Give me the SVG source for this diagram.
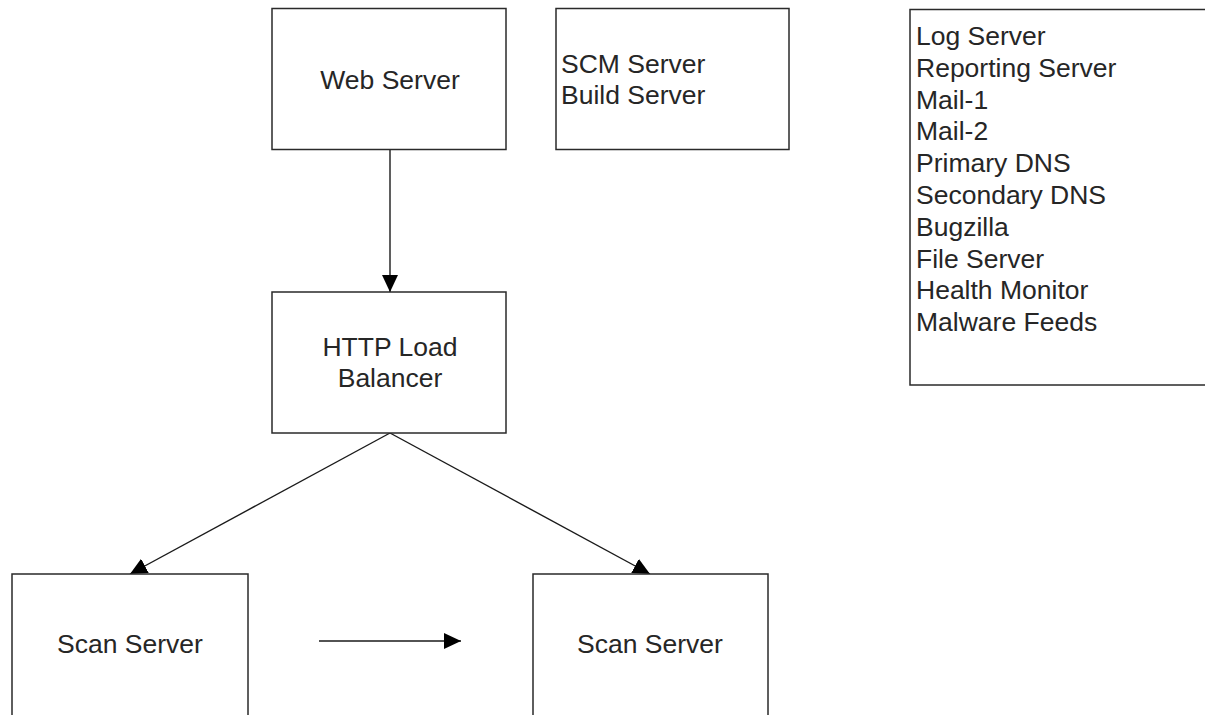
<svg xmlns="http://www.w3.org/2000/svg" width="1205" height="715" viewBox="0 0 1205 715">
  <style>
    .box { fill: #ffffff; stroke: #2a2a2a; stroke-width: 1.5; }
    .lbl { font-family: "Liberation Sans", Arial, sans-serif; font-size: 26.5px; fill: #262626; }
    .mid { text-anchor: middle; }
    .edge { fill: none; stroke: #1a1a1a; stroke-width: 1.4; marker-end: url(#head); }
  </style>
  <defs>
    <marker id="head" markerUnits="userSpaceOnUse" markerWidth="18" markerHeight="17" refX="17" refY="8" orient="auto">
      <path d="M0,0 L17,8 L0,16 z" fill="#000000"/>
    </marker>
  </defs>
  <rect width="1205" height="715" fill="#ffffff"/>

  <!-- connectors sit under the boxes so the box fill trims the slanted heads -->
  <g id="connectors">
    <line class="edge" x1="390" y1="149" x2="390" y2="292"/>
    <line class="edge" x1="390" y1="433" x2="130" y2="574"/>
    <line class="edge" x1="390" y1="433" x2="650" y2="574"/>
    <line class="edge" x1="319" y1="641" x2="461" y2="641"/>
  </g>

  <g id="web-server">
    <rect class="box" x="272" y="8.5" width="234" height="141"/>
    <text class="lbl mid" x="390" y="88.5">Web Server</text>
  </g>

  <g id="scm-build">
    <rect class="box" x="556" y="8.5" width="233" height="141"/>
    <text class="lbl" x="561" y="72.5">SCM Server</text>
    <text class="lbl" x="561" y="104.3">Build Server</text>
  </g>

  <g id="infra-list">
    <rect class="box" x="910" y="9.5" width="310" height="375.5"/>
    <text class="lbl" x="916" y="45">Log Server</text>
    <text class="lbl" x="916" y="76.8">Reporting Server</text>
    <text class="lbl" x="916" y="108.6">Mail-1</text>
    <text class="lbl" x="916" y="140.4">Mail-2</text>
    <text class="lbl" x="916" y="172.2">Primary DNS</text>
    <text class="lbl" x="916" y="204">Secondary DNS</text>
    <text class="lbl" x="916" y="235.8">Bugzilla</text>
    <text class="lbl" x="916" y="267.6">File Server</text>
    <text class="lbl" x="916" y="299.4">Health Monitor</text>
    <text class="lbl" x="916" y="331.2">Malware Feeds</text>
  </g>

  <g id="http-lb">
    <rect class="box" x="272" y="292" width="234" height="141"/>
    <text class="lbl mid" x="390" y="355.5">HTTP Load</text>
    <text class="lbl mid" x="390" y="387.3">Balancer</text>
  </g>

  <g id="scan-server-1">
    <rect class="box" x="12" y="574" width="236" height="160"/>
    <text class="lbl mid" x="130" y="653">Scan Server</text>
  </g>

  <g id="scan-server-2">
    <rect class="box" x="533" y="574" width="235" height="160"/>
    <text class="lbl mid" x="650" y="653">Scan Server</text>
  </g>
</svg>
